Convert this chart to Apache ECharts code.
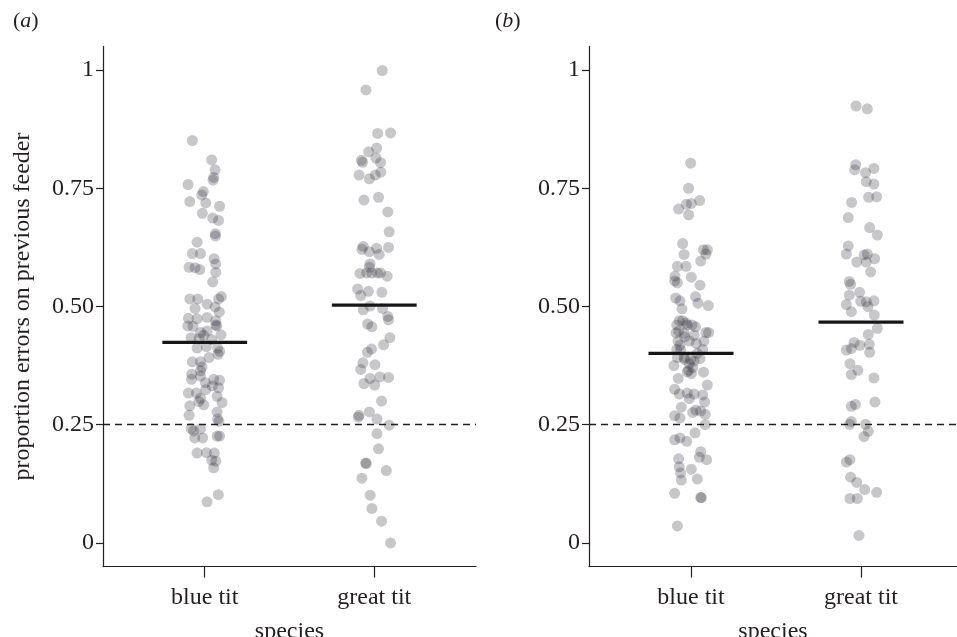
<!DOCTYPE html>
<html>
<head>
<meta charset="utf-8">
<script src="https://cdn.jsdelivr.net/npm/echarts@6/dist/echarts.min.js"></script>
<style>html,body{margin:0;padding:0;background:#fff;}#c{width:957px;height:637px;}</style>
</head>
<body>
<div id="c"></div>
<script>
// ---- data ----
const species = ['blue tit', 'great tit'];
const categoryPos = [1, 2];
const yTicks = [0, 0.25, 0.5, 0.75, 1];
const yTickLabels = ['0', '0.25', '0.50', '0.75', '1'];
const chanceLevel = 0.25;
const panelLabels = ['a', 'b'];
const yAxisTitle = 'proportion errors on previous feeder';
const xAxisTitle = 'species';

// panel (a)
const aBlueValues = [0.851,0.810,0.789,0.773,0.767,0.758,0.743,0.736,0.722,0.719,0.712,0.697,0.687,0.682,0.654,0.649,0.636,0.612,0.612,0.601,0.590,0.583,0.582,0.578,0.572,0.552,0.516,0.516,0.521,0.516,0.505,0.499,0.496,0.488,0.475,0.474,0.477,0.470,0.459,0.458,0.461,0.459,0.448,0.445,0.440,0.434,0.432,0.439,0.430,0.412,0.415,0.412,0.405,0.399,0.392,0.383,0.383,0.372,0.364,0.357,0.346,0.353,0.346,0.344,0.339,0.332,0.328,0.317,0.317,0.306,0.324,0.310,0.299,0.292,0.297,0.290,0.270,0.277,0.262,0.257,0.242,0.237,0.241,0.222,0.222,0.226,0.226,0.190,0.191,0.190,0.175,0.173,0.159,0.102,0.087];
const aBlueJitter = [-0.073,0.041,0.061,0.053,0.049,-0.098,-0.008,-0.018,-0.088,0.006,0.088,-0.014,0.047,0.082,0.063,0.063,-0.045,-0.073,-0.025,0.055,0.065,-0.092,-0.057,-0.029,0.065,0.047,-0.088,-0.041,0.098,0.082,0.014,0.061,-0.057,0.086,-0.096,-0.045,0.014,0.065,-0.100,-0.069,0.065,0.071,0.014,-0.025,0.096,-0.080,-0.033,-0.006,0.041,-0.045,0.010,0.076,0.088,0.078,0.025,-0.073,-0.025,-0.016,-0.025,-0.077,-0.078,-0.025,0.053,0.088,0.004,0.045,0.082,-0.096,-0.049,-0.025,0.006,0.073,-0.035,-0.006,0.102,-0.088,-0.092,0.073,0.076,0.084,-0.080,-0.065,-0.025,-0.059,-0.012,0.073,0.088,-0.045,0.010,0.057,0.041,0.065,0.053,0.080,0.014];
const aGreatValues = [0.999,0.958,0.866,0.867,0.827,0.835,0.809,0.805,0.814,0.804,0.778,0.770,0.778,0.784,0.725,0.731,0.700,0.658,0.627,0.621,0.616,0.623,0.610,0.625,0.590,0.570,0.571,0.571,0.571,0.571,0.564,0.583,0.537,0.523,0.532,0.530,0.501,0.493,0.496,0.479,0.472,0.463,0.457,0.434,0.419,0.410,0.403,0.381,0.377,0.367,0.348,0.351,0.350,0.337,0.334,0.300,0.270,0.266,0.277,0.262,0.249,0.231,0.199,0.169,0.168,0.153,0.137,0.101,0.073,0.046,0.000];
const aGreatJitter = [0.047,-0.049,0.020,0.096,-0.033,0.014,-0.076,-0.069,0.010,0.037,-0.090,-0.029,0.006,0.039,-0.061,0.025,0.080,0.088,-0.065,-0.073,-0.029,0.014,0.029,0.084,-0.025,-0.084,-0.045,-0.016,0.018,0.037,0.076,-0.029,-0.098,-0.080,-0.035,0.045,-0.025,-0.065,0.049,0.080,0.084,-0.039,-0.014,0.092,0.055,-0.016,-0.041,-0.067,0.004,-0.080,-0.025,0.033,0.084,-0.061,0.002,0.043,-0.090,-0.094,-0.029,0.016,0.088,0.016,0.025,-0.051,-0.047,0.071,-0.073,-0.024,-0.014,0.043,0.096];
const aMeans = [0.424, 0.503];

// panel (b)
const bBlueValues = [0.803,0.750,0.706,0.716,0.718,0.724,0.694,0.633,0.610,0.620,0.620,0.611,0.596,0.585,0.585,0.564,0.562,0.554,0.550,0.545,0.518,0.512,0.521,0.507,0.502,0.495,0.470,0.461,0.465,0.461,0.457,0.448,0.444,0.444,0.439,0.445,0.445,0.427,0.422,0.427,0.409,0.408,0.409,0.392,0.388,0.385,0.390,0.375,0.392,0.365,0.358,0.361,0.348,0.334,0.325,0.315,0.317,0.315,0.313,0.305,0.298,0.287,0.281,0.279,0.276,0.272,0.269,0.264,0.250,0.233,0.218,0.222,0.215,0.193,0.181,0.176,0.178,0.161,0.148,0.156,0.133,0.135,0.105,0.096,0.096,0.036,0.470,0.461,0.436,0.427,0.418,0.401,0.379,0.371,0.362,0.388];
const bBlueJitter = [-0.002,-0.014,-0.073,-0.027,0.002,0.051,-0.014,-0.049,-0.041,0.073,0.096,0.088,0.057,-0.080,-0.029,-0.094,0.002,-0.096,-0.080,0.053,-0.090,-0.065,0.027,0.041,0.102,-0.053,-0.069,-0.084,-0.029,0.006,0.027,-0.073,-0.088,-0.041,0.018,0.088,0.104,-0.076,0.031,0.076,-0.084,-0.061,0.069,-0.080,-0.002,0.018,0.053,-0.100,-0.041,-0.014,0.002,0.073,-0.075,0.096,-0.096,-0.069,-0.022,0.018,0.069,-0.010,0.080,-0.057,0.029,0.057,0.010,0.084,-0.096,-0.065,0.084,0.024,-0.096,-0.065,-0.025,0.057,0.049,0.092,-0.073,-0.069,-0.061,0.002,-0.057,0.037,-0.096,0.057,0.061,-0.080,-0.049,-0.022,-0.037,-0.010,-0.065,0.037,-0.010,0.010,-0.022,-0.037];
const bGreatValues = [0.924,0.918,0.800,0.789,0.783,0.792,0.764,0.759,0.731,0.732,0.720,0.688,0.667,0.651,0.628,0.611,0.611,0.609,0.601,0.594,0.594,0.573,0.553,0.547,0.524,0.530,0.511,0.510,0.512,0.504,0.500,0.489,0.482,0.454,0.441,0.424,0.418,0.420,0.408,0.411,0.403,0.379,0.365,0.356,0.349,0.298,0.293,0.289,0.257,0.251,0.251,0.236,0.225,0.171,0.176,0.139,0.128,0.113,0.107,0.094,0.094,0.016];
const bGreatJitter = [-0.029,0.037,-0.031,-0.037,0.027,0.076,0.031,0.076,0.045,0.092,-0.055,-0.075,0.051,0.096,-0.075,-0.086,0.037,0.018,0.080,-0.025,0.031,0.057,-0.069,-0.061,-0.069,-0.008,-0.002,0.031,0.076,-0.086,0.041,-0.057,0.078,0.096,0.043,-0.041,-0.006,0.049,-0.086,-0.057,0.051,-0.065,-0.018,-0.057,0.076,0.082,-0.033,-0.057,-0.057,-0.067,0.027,0.043,0.018,-0.086,-0.065,-0.061,-0.025,0.022,0.092,-0.065,-0.022,-0.012];
const bMeans = [0.401, 0.467];

// ---- style ----
const FONT = 'Liberation Serif';
const INK = '#231f20';
const POINT = 'rgba(40,40,48,0.33)';
const MEAN_HALF = 0.25;

const panels = [
  {groups: [[aBlueValues, aBlueJitter], [aGreatValues, aGreatJitter]], means: aMeans, left: 103, width: 373, xMin: 0.4, xMax: 2.6},
  {groups: [[bBlueValues, bBlueJitter], [bGreatValues, bGreatJitter]], means: bMeans, left: 589, width: 368, xMin: 0.4, xMax: 0.4 + 368 / 170}
];

const grids = [], xAxes = [], yAxes = [], series = [], titles = [];
panels.forEach((p, pi) => {
  grids.push({left: p.left, width: p.width, top: 46.4, height: 520.2, containLabel: false, outerBoundsMode: 'none'});
  xAxes.push({
    type: 'value', gridIndex: pi, min: p.xMin, max: p.xMax,
    axisLine: {show: true, onZero: false, lineStyle: {color: INK, width: 1.2}},
    axisTick: {show: true, customValues: categoryPos, length: 11, inside: false, lineStyle: {color: INK, width: 1.2}},
    axisLabel: {show: true, customValues: categoryPos, formatter: v => species[categoryPos.indexOf(v)] || '',
      fontFamily: FONT, fontSize: 24, color: INK, margin: 19},
    splitLine: {show: false},
    name: xAxisTitle, nameLocation: 'middle', nameGap: 53,
    nameTextStyle: {fontFamily: FONT, fontSize: 24, color: INK}
  });
  yAxes.push({
    type: 'value', gridIndex: pi, min: -0.05, max: 1.05,
    axisLine: {show: true, onZero: false, lineStyle: {color: INK, width: 1.2}},
    axisTick: {show: true, customValues: yTicks, length: 7, lineStyle: {color: INK, width: 1.2}},
    axisLabel: {show: true, customValues: yTicks, formatter: v => yTickLabels[yTicks.indexOf(v)],
      fontFamily: FONT, fontSize: 24, color: INK, margin: 9},
    splitLine: {show: false},
    name: pi === 0 ? yAxisTitle : '', nameLocation: 'middle', nameGap: 68, nameRotate: 90,
    nameTextStyle: {fontFamily: FONT, fontSize: 24, color: INK}
  });
  p.groups.forEach((g, gi) => {
    const [vals, jit] = g;
    series.push({
      type: 'scatter', xAxisIndex: pi, yAxisIndex: pi,
      symbol: 'circle', symbolSize: 11,
      itemStyle: {color: POINT, borderWidth: 0},
      data: vals.map((v, i) => [categoryPos[gi] + jit[i], v]),
      z: 2, silent: true
    });
  });
  p.means.forEach((m, gi) => {
    series.push({
      type: 'line', xAxisIndex: pi, yAxisIndex: pi, symbol: 'none',
      lineStyle: {color: '#161616', width: 3.2},
      data: [[categoryPos[gi] - MEAN_HALF, m], [categoryPos[gi] + MEAN_HALF, m]],
      z: 4, silent: true,
      markLine: gi === 0 ? {
        symbol: 'none', silent: true, label: {show: false},
        lineStyle: {color: INK, width: 1.4, type: [7, 5]},
        data: [{yAxis: chanceLevel}], z: 5
      } : undefined
    });
  });
  titles.push({
    text: '{p|(}{i|' + panelLabels[pi] + '}{p|)}',
    left: pi === 0 ? 8 : 490, top: 5,
    textStyle: {fontWeight: 'normal', rich: {
      p: {fontFamily: FONT, fontSize: 22, fontWeight: 'normal', color: INK},
      i: {fontFamily: FONT, fontSize: 22, fontStyle: 'italic', fontWeight: 'normal', color: INK}
    }}
  });
});

const chart = echarts.init(document.getElementById('c'), null, {renderer: 'canvas'});
chart.setOption({
  animation: false,
  backgroundColor: '#ffffff',
  title: titles,
  grid: grids, xAxis: xAxes, yAxis: yAxes, series: series
});
</script>
</body>
</html>
